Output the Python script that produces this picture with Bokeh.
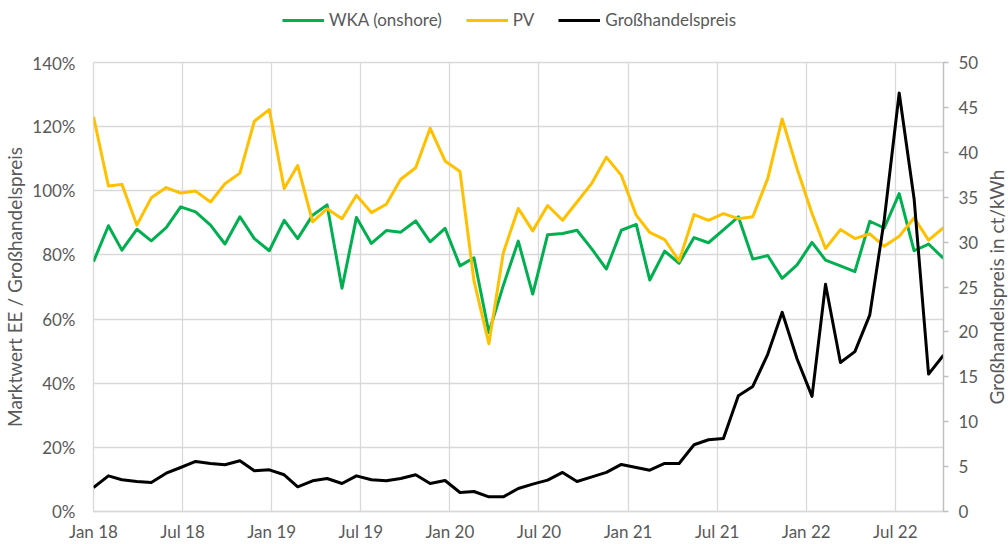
import math
import pandas as pd
from bokeh.plotting import figure
from bokeh.layouts import column, row
from bokeh.core.properties import value
from bokeh.models import Range1d, LinearAxis, FixedTicker, Legend, LegendItem
from bokeh.embed import file_html
from bokeh.resources import INLINE

# ---------------- data ----------------
months = [
    "2018-01", "2018-02", "2018-03", "2018-04", "2018-05", "2018-06",
    "2018-07", "2018-08", "2018-09", "2018-10", "2018-11", "2018-12",
    "2019-01", "2019-02", "2019-03", "2019-04", "2019-05", "2019-06",
    "2019-07", "2019-08", "2019-09", "2019-10", "2019-11", "2019-12",
    "2020-01", "2020-02", "2020-03", "2020-04", "2020-05", "2020-06",
    "2020-07", "2020-08", "2020-09", "2020-10", "2020-11", "2020-12",
    "2021-01", "2021-02", "2021-03", "2021-04", "2021-05", "2021-06",
    "2021-07", "2021-08", "2021-09", "2021-10", "2021-11", "2021-12",
    "2022-01", "2022-02", "2022-03", "2022-04", "2022-05", "2022-06",
    "2022-07", "2022-08", "2022-09", "2022-10", "2022-11",
]

# Marktwert / Großhandelspreis in %
wka_onshore = [
    77.9, 89.1, 81.5, 88.0, 84.4, 88.5, 95.0, 93.4, 89.3, 83.4, 91.9, 85.1,
    81.3, 90.8, 85.1, 92.4, 95.6, 69.6, 91.7, 83.6, 87.6, 87.1, 90.6, 84.1,
    88.3, 76.6, 79.1, 55.8, 70.5, 84.3, 67.8, 86.3, 86.7, 87.7, 81.8, 75.6,
    87.7, 89.5, 72.2, 81.2, 77.4, 85.4, 83.8, 87.8, 91.9, 78.7, 79.8, 72.7,
    76.9, 83.9, 78.4, 76.6, 74.8, 90.5, 88.4, 99.1, 81.3, 83.4, 78.9,
]
pv = [
    123.1, 101.5, 102.0, 89.3, 97.8, 101.0, 99.3, 99.9, 96.5, 102.2, 105.5, 121.7,
    125.3, 100.7, 107.9, 90.3, 94.4, 91.3, 98.6, 93.2, 95.8, 103.6, 107.2, 119.5,
    109.3, 106.0, 72.0, 52.3, 80.7, 94.5, 87.5, 95.4, 90.8, 96.5, 102.4, 110.5,
    104.8, 92.4, 87.0, 84.8, 78.1, 92.6, 90.8, 92.9, 91.3, 91.9, 103.8, 122.4,
    106.9, 92.9, 82.0, 87.9, 85.1, 86.6, 82.7, 85.8, 91.6, 84.6, 88.5,
]
# Großhandelspreis in ct/kWh
grosshandelspreis = [
    2.67, 3.97, 3.53, 3.34, 3.23, 4.27, 4.90, 5.57, 5.35, 5.20, 5.65, 4.53,
    4.64, 4.09, 2.75, 3.42, 3.68, 3.12, 3.97, 3.53, 3.42, 3.68, 4.09, 3.12,
    3.45, 2.12, 2.23, 1.63, 1.63, 2.56, 3.05, 3.49, 4.35, 3.34, 3.86, 4.35,
    5.24, 4.90, 4.60, 5.35, 5.35, 7.43, 7.99, 8.14, 12.89, 13.93, 17.50, 22.18,
    16.98, 12.82, 25.30, 16.60, 17.80, 21.90, 32.50, 46.60, 34.80, 15.30, 17.40,
]

x_tick_labels = ["Jan 18", "Jul 18", "Jan 19", "Jul 19", "Jan 20",
                 "Jul 20", "Jan 21", "Jul 21", "Jan 22", "Jul 22"]
left_ticks = [0, 20, 40, 60, 80, 100, 120, 140]
right_ticks = [0, 5, 10, 15, 20, 25, 30, 35, 40, 45, 50]

series_names = ["WKA (onshore)", "PV", "Großhandelspreis"]
series_colors = ["#00B050", "#FFC000", "#000000"]
series_values = [wka_onshore, pv, grosshandelspreis]

left_title = "Marktwert EE / Großhandelspreis"
right_title = "Großhandelspreis in ct/kWh"

# ---------------- layout ----------------
FONT = "Lato"
TXT = "#595959"
GRID = "#D9D9D9"
W = 1008
RT_W = 24            # strip for the right axis title
LEG_H = 52
MAIN_H = 544 - LEG_H
B_LEFT, B_TOP, B_BOTTOM = 93, 10, 32
B_RIGHT = 65 - RT_W

dates = pd.to_datetime(months)
xdays = [int(d) for d in (dates - dates[0]).days]
tick_step = 185  # days between labelled gridlines
x_ticks = [i * tick_step for i in range(len(x_tick_labels))]

p = figure(width=W - RT_W, height=MAIN_H, output_backend="svg",
           toolbar_location=None,
           x_range=Range1d(0, xdays[-1]), y_range=Range1d(0, 140),
           min_border_left=B_LEFT, min_border_right=B_RIGHT,
           min_border_top=B_TOP, min_border_bottom=B_BOTTOM,
           background_fill_color="white", border_fill_color="white")
p.outline_line_color = GRID
p.outline_line_width = 1.3
p.extra_y_ranges = {"preis": Range1d(0, 50)}

# grids
p.xgrid.ticker = FixedTicker(ticks=x_ticks)
p.ygrid.ticker = FixedTicker(ticks=left_ticks)
for g in (p.xgrid, p.ygrid):
    g.grid_line_color = GRID
    g.grid_line_width = 1.3

# x axis
xa = p.xaxis[0]
xa.ticker = FixedTicker(ticks=x_ticks)
xa.major_label_overrides = {t: lab for t, lab in zip(x_ticks, x_tick_labels)}
xa.axis_line_color = GRID
xa.axis_line_width = 1.3
xa.major_tick_line_color = None
xa.minor_tick_line_color = None
xa.major_label_standoff = 3
xa.major_label_text_font = FONT
xa.major_label_text_font_size = "17px"
xa.major_label_text_color = TXT

# left y axis
ya = p.yaxis[0]
ya.ticker = FixedTicker(ticks=left_ticks)
ya.major_label_overrides = {t: f"{t}%" for t in left_ticks}
ya.axis_line_color = None
ya.major_tick_line_color = None
ya.minor_tick_line_color = None
ya.major_label_standoff = 12
ya.major_label_text_font = FONT
ya.major_label_text_font_size = "17px"
ya.major_label_text_color = TXT
ya.axis_label = left_title
ya.axis_label_text_font = FONT
ya.axis_label_text_font_size = "19px"
ya.axis_label_text_font_style = "normal"
ya.axis_label_text_color = TXT
ya.axis_label_standoff = 3

# right y axis (title drawn in its own strip, reading bottom-to-top)
ra = LinearAxis(y_range_name="preis", ticker=FixedTicker(ticks=right_ticks))
ra.axis_line_color = "#BFBFBF"
ra.axis_line_width = 1.3
ra.major_tick_line_color = "#BFBFBF"
ra.major_tick_line_width = 1.3
ra.major_tick_out = 5
ra.major_tick_in = 0
ra.minor_tick_line_color = None
ra.major_label_standoff = 10
ra.major_label_text_font = FONT
ra.major_label_text_font_size = "17px"
ra.major_label_text_color = TXT
p.add_layout(ra, "right")

# lines
r_wka = p.line(xdays, wka_onshore, line_color=series_colors[0], line_width=3,
               line_join="round")
r_pv = p.line(xdays, pv, line_color=series_colors[1], line_width=3,
              line_join="round")
r_gp = p.line(xdays, grosshandelspreis, line_color=series_colors[2], line_width=3,
              line_join="round", y_range_name="preis")


def bare(fig):
    fig.xaxis.visible = False
    fig.yaxis.visible = False
    fig.xgrid.visible = False
    fig.ygrid.visible = False
    fig.outline_line_color = None


# ---------------- right title strip ----------------
rt = figure(width=RT_W, height=MAIN_H, output_backend="svg",
            toolbar_location=None, x_range=Range1d(0, 1), y_range=Range1d(0, 1),
            min_border_left=0, min_border_right=0, min_border_top=B_TOP,
            min_border_bottom=B_BOTTOM, background_fill_color="white",
            border_fill_color="white")
bare(rt)
rt.text(x=[0.5], y=[0.5], text=[right_title], angle=math.pi / 2,
        text_align="center", text_baseline="middle", text_font=value(FONT),
        text_font_size="19px", text_color=TXT)

# ---------------- legend strip above the chart ----------------
# (its series lie outside this strip's ranges; only the legend shows)
lf = figure(width=W, height=LEG_H, output_backend="svg", toolbar_location=None,
            x_range=Range1d(0, 1), y_range=Range1d(0, 1),
            min_border_left=B_LEFT, min_border_right=65, min_border_top=0,
            min_border_bottom=0, background_fill_color="white",
            border_fill_color="white")
bare(lf)
leg_renderers = [lf.line(xdays, vals, line_color=c, line_width=3)
                 for vals, c in zip(series_values, series_colors)]

legend = Legend(items=[LegendItem(label=n, renderers=[r]) for n, r in
                       zip(series_names, leg_renderers)],
                orientation="horizontal", location=(189, LEG_H - 30),
                glyph_width=42, glyph_height=20, label_standoff=5, spacing=24,
                padding=0, margin=0, border_line_color=None,
                background_fill_alpha=0, label_text_font=FONT,
                label_text_font_size="17px", label_text_color=TXT)
lf.add_layout(legend, "center")

layout = column(lf, row(p, rt, spacing=0), spacing=0)
open("out.html", "w").write(file_html(layout, INLINE))
